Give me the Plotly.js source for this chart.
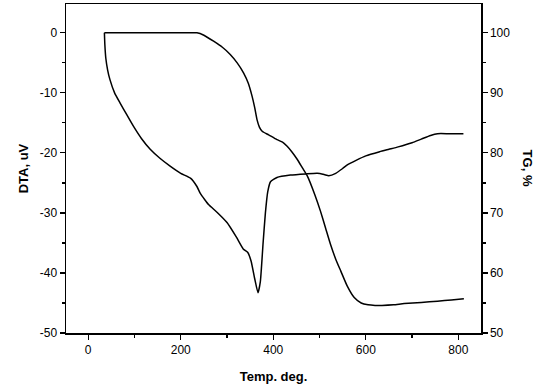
<!DOCTYPE html>
<html>
<head>
<meta charset="utf-8">
<script src="https://cdn.plot.ly/plotly-3.0.1.min.js"></script>
<style>html,body{margin:0;padding:0;background:#fff;}#chart{width:545px;height:389px;}</style>
</head>
<body>
<div id="chart"></div>
<script>
// DTA curve (left axis, uV)
const dtaTemp = [35, 36, 38, 42, 47, 57, 69, 83, 98, 115, 134, 155, 177, 200, 221, 235, 242, 252, 260, 280, 300, 320, 335, 345, 352, 360, 367, 372, 378, 383, 388, 394, 408, 437, 470, 495, 510, 520, 535, 550, 560, 580, 600, 630, 650, 670, 700, 720, 740, 755, 780, 811];
const dtaVals = [0, -2.0, -4.2, -6.2, -7.8, -10.0, -11.7, -13.6, -15.6, -17.6, -19.4, -20.9, -22.2, -23.4, -24.2, -25.6, -26.7, -27.8, -28.6, -30.0, -31.6, -34.0, -36.0, -36.6, -38.0, -41.0, -43.3, -41.5, -35.0, -30.0, -26.5, -24.8, -24.1, -23.7, -23.5, -23.4, -23.6, -23.8, -23.4, -22.6, -22.0, -21.2, -20.5, -19.8, -19.4, -19.0, -18.3, -17.7, -17.1, -16.8, -16.8, -16.8];
// TG curve (right axis, %)
const tgTemp = [35, 100, 150, 200, 235, 250, 271, 290, 307, 322, 336, 346, 354, 360, 365, 370, 376, 390, 408, 420, 430, 440, 452, 463, 474, 490, 502, 513, 524, 535, 546, 560, 575, 590, 605, 620, 635, 660, 683, 720, 755, 785, 812];
const tgVals = [100, 100, 100, 100, 100, 99.6, 98.6, 97.6, 96.4, 95.0, 93.3, 91.6, 89.5, 87.5, 85.5, 84.3, 83.6, 83.0, 82.2, 81.8, 81.1, 80.2, 78.9, 77.5, 76.1, 73.0, 70.3, 67.5, 64.7, 62.3, 60.3, 57.8, 55.9, 55.0, 54.7, 54.6, 54.6, 54.7, 54.9, 55.1, 55.3, 55.5, 55.7];

const xTicks = [0, 200, 400, 600, 800];
const yTicks = [-50, -40, -30, -20, -10, 0];
const yTickText = ['-50', '-40', '-30', '-20', '-10', '0'];
const y2Ticks = [50, 60, 70, 80, 90, 100];

const xTitle = 'Temp. deg.';
const yTitle = 'DTA, uV';
const y2Title = 'TG, %';

const lineStyle = {color: '#000', width: 1.5, shape: 'spline', smoothing: 0.5};
const traces = [
  {x: dtaTemp, y: dtaVals, type: 'scatter', mode: 'lines', line: lineStyle, yaxis: 'y', showlegend: false, hoverinfo: 'skip'},
  {x: tgTemp, y: tgVals, type: 'scatter', mode: 'lines', line: lineStyle, yaxis: 'y2', showlegend: false, hoverinfo: 'skip'}
];

const tickFont = {family: 'Liberation Sans, Arial, sans-serif', size: 12, color: '#000'};
const titleFont = {family: 'Liberation Sans, Arial, sans-serif', size: 13, color: '#000', weight: 'bold'};

const layout = {
  width: 545, height: 389,
  margin: {l: 66, r: 64, t: 4, b: 56},
  paper_bgcolor: '#fff', plot_bgcolor: '#fff',
  xaxis: {
    range: [-48, 849], tickvals: xTicks,
    showgrid: false, zeroline: false, showline: true, linecolor: '#000', linewidth: 1.5,
    mirror: true, ticks: 'outside', ticklen: 5, tickwidth: 1.2, tickcolor: '#000',
    minor: {tickvals: [100, 300, 500, 700], ticks: 'outside', ticklen: 3, tickcolor: '#000'},
    tickfont: tickFont,
    title: {text: xTitle, font: titleFont, standoff: 16}
  },
  yaxis: {
    range: [-50, 4.8], tickvals: yTicks, ticktext: yTickText,
    showgrid: false, zeroline: false, showline: true, linecolor: '#000', linewidth: 1.5,
    ticks: 'outside', ticklen: 5, tickwidth: 1.2, tickcolor: '#000',
    minor: {tickvals: [-45, -35, -25, -15, -5], ticks: 'outside', ticklen: 3, tickcolor: '#000'},
    tickfont: tickFont,
    title: {text: yTitle, font: titleFont, standoff: 8}
  },
  yaxis2: {
    overlaying: 'y', side: 'right', range: [50, 104.8], tickvals: y2Ticks,
    showgrid: false, zeroline: false, showline: true, linecolor: '#000', linewidth: 1.5,
    ticks: 'outside', ticklen: 5, tickwidth: 1.2, tickcolor: '#000',
    minor: {tickvals: [55, 65, 75, 85, 95], ticks: 'outside', ticklen: 3, tickcolor: '#000'},
    tickfont: tickFont
  },
  annotations: [
    {text: '<b>' + y2Title + '</b>', xref: 'paper', yref: 'paper', x: 1.113, y: 0.5,
     showarrow: false, textangle: 90, font: {family: 'Liberation Sans, Arial, sans-serif', size: 13, color: '#000'},
     xanchor: 'center', yanchor: 'middle'}
  ]
};

Plotly.newPlot('chart', traces, layout, {staticPlot: true, displayModeBar: false});
</script>
</body>
</html>
